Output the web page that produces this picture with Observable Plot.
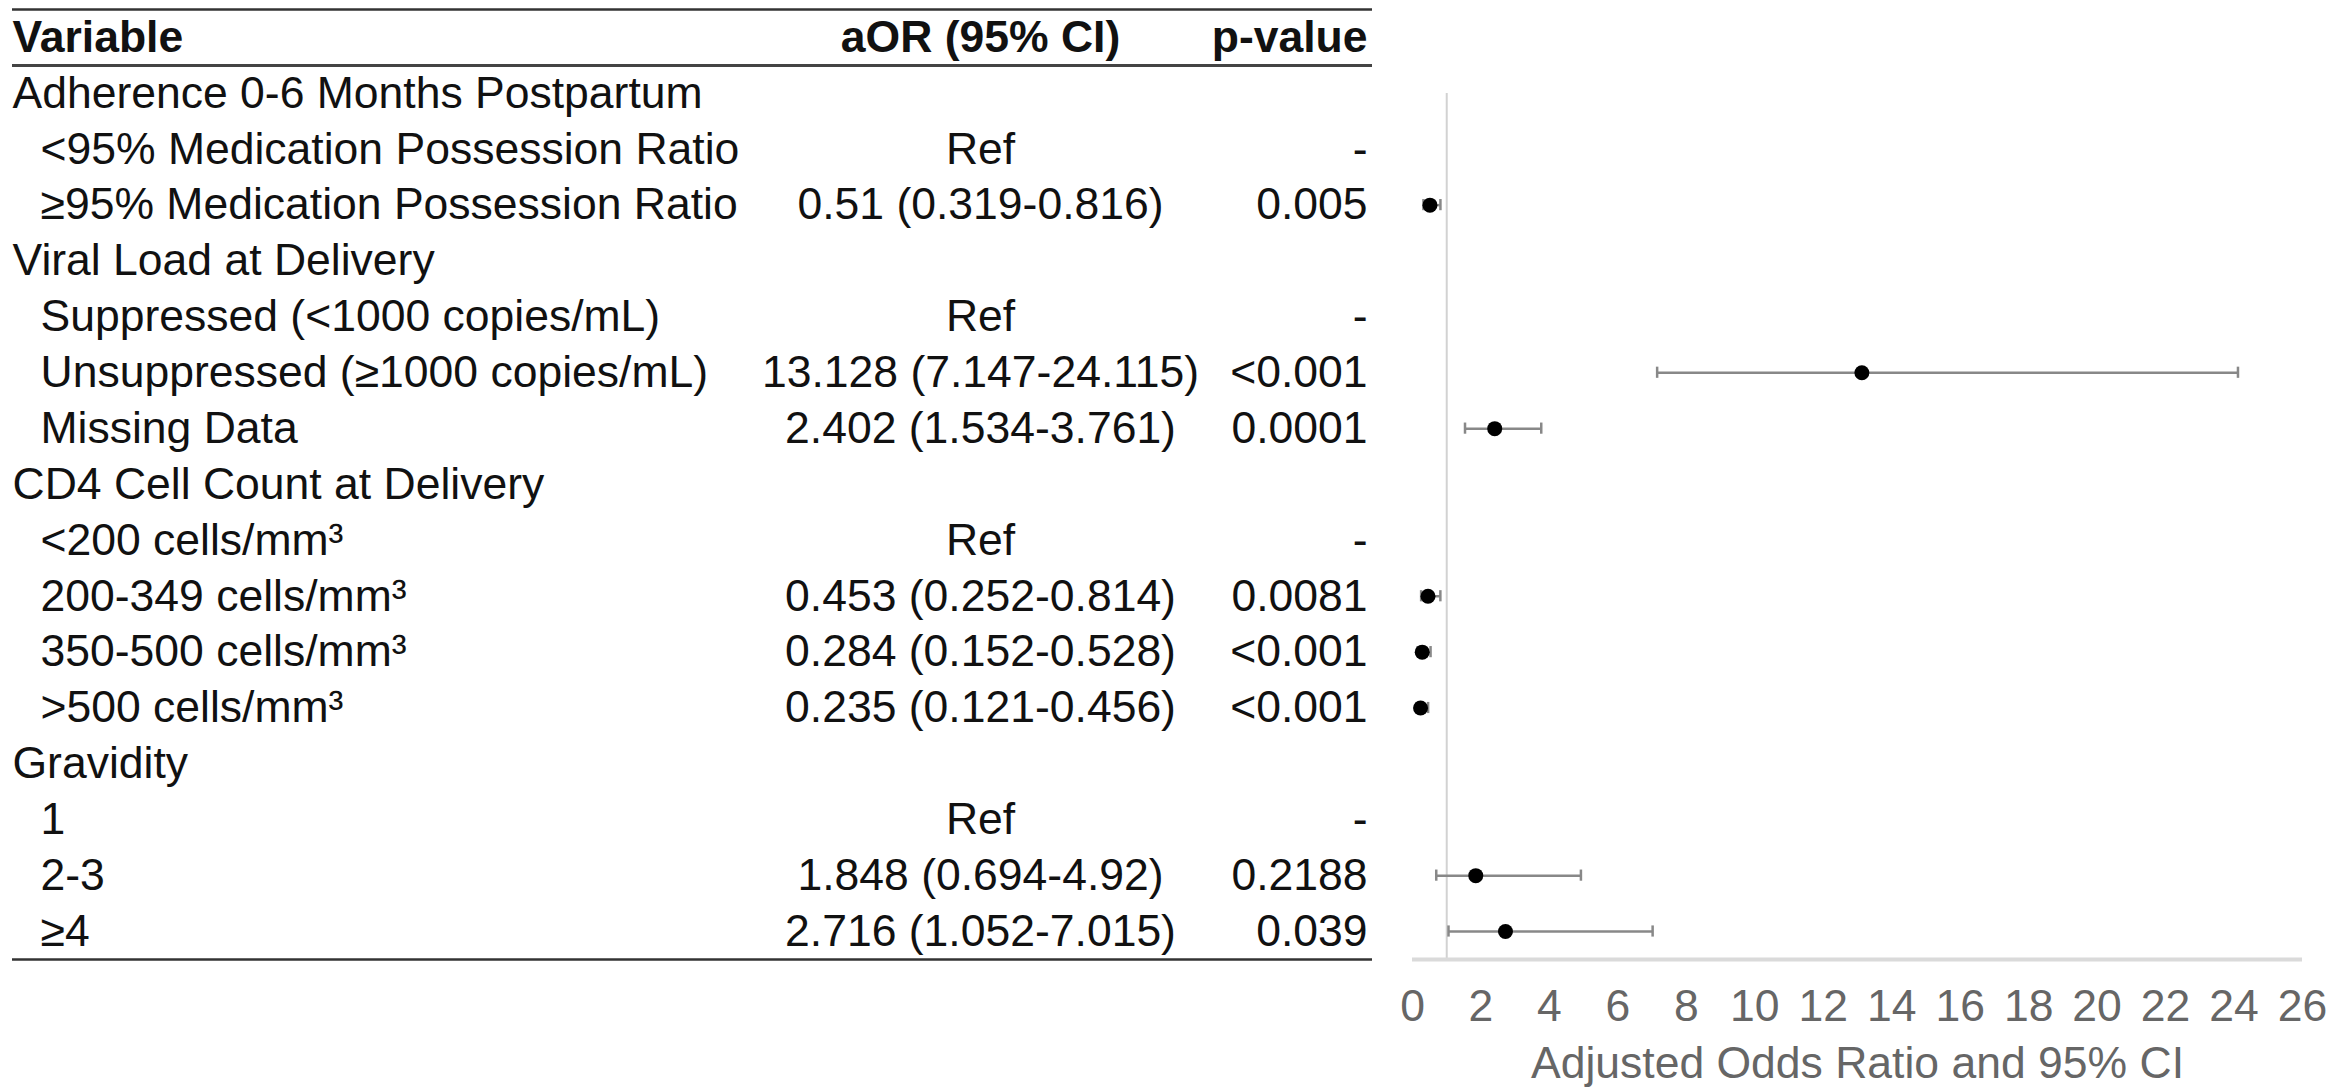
<!DOCTYPE html>
<html>
<head>
<meta charset="utf-8">
<script src="https://cdn.jsdelivr.net/npm/d3@7"></script>
<script src="https://cdn.jsdelivr.net/npm/@observablehq/plot@0.6"></script>
<style>
  html, body { margin: 0; padding: 0; background: #fff; }
  #chart svg { display: block; }
</style>
</head>
<body>
<div id="chart"></div>
<script>
// ---- data ----
const labels = [
  "Adherence 0-6 Months Postpartum",
  "<95% Medication Possession Ratio",
  "≥95% Medication Possession Ratio",
  "Viral Load at Delivery",
  "Suppressed (<1000 copies/mL)",
  "Unsuppressed (≥1000 copies/mL)",
  "Missing Data",
  "CD4 Cell Count at Delivery",
  "<200 cells/mm³",
  "200-349 cells/mm³",
  "350-500 cells/mm³",
  ">500 cells/mm³",
  "Gravidity",
  "1",
  "2-3",
  "≥4"
];
const isGroup = [true, false, false, true, false, false, false, true, false, false, false, false, true, false, false, false];
const aorText = ["", "Ref", "0.51 (0.319-0.816)", "", "Ref", "13.128 (7.147-24.115)", "2.402 (1.534-3.761)", "", "Ref", "0.453 (0.252-0.814)", "0.284 (0.152-0.528)", "0.235 (0.121-0.456)", "", "Ref", "1.848 (0.694-4.92)", "2.716 (1.052-7.015)"];
const pText = ["", "-", "0.005", "", "-", "<0.001", "0.0001", "", "-", "0.0081", "<0.001", "<0.001", "", "-", "0.2188", "0.039"];
const aor   = [null, null, 0.51,  null, null, 13.128, 2.402, null, null, 0.453, 0.284, 0.235, null, null, 1.848, 2.716];
const lower = [null, null, 0.319, null, null, 7.147,  1.534, null, null, 0.252, 0.152, 0.121, null, null, 0.694, 1.052];
const upper = [null, null, 0.816, null, null, 24.115, 3.761, null, null, 0.814, 0.528, 0.456, null, null, 4.92,  7.015];
const headers = ["Variable", "aOR (95% CI)", "p-value"];
const xTicks = [0, 2, 4, 6, 8, 10, 12, 14, 16, 18, 20, 22, 24, 26];
const xTitle = "Adjusted Odds Ratio and 95% CI";
const refValue = 1;

// ---- layout (pixels) ----
const W = 2340, H = 1089;
const mLeft = 1412, mRight = 38, mBottom = 132;
const colVar = 12, colSub = 40, colAor = 980, colP = 1367, tableRight = 1372;
const FONT = "'Liberation Sans', Arial, Helvetica, sans-serif";
const FS = 44.5;

const rows = labels.map((label, i) => ({
  i, label, group: isGroup[i], aorText: aorText[i], p: pText[i],
  est: aor[i], lo: lower[i], hi: upper[i]
}));
const est = rows.filter(d => d.est != null);

const xDomain = [d3.min(xTicks), d3.max(xTicks)];
const px2x = d3.scaleLinear([mLeft, W - mRight], xDomain);
const lastEdge = rows.length - 0.5;

const chart = Plot.plot({
  width: W,
  height: H,
  marginLeft: mLeft,
  marginRight: mRight,
  marginTop: 0,
  marginBottom: mBottom,
  style: { fontFamily: FONT, background: "#fff" },
  x: { domain: xDomain },
  y: { domain: [-1, rows.length - 1], range: [37, 931], axis: null },
  marks: [
    // table rules
    Plot.ruleY([-1.5, lastEdge], { x1: px2x(colVar), x2: px2x(tableRight), stroke: "#333", strokeWidth: 2.5 }),
    Plot.ruleY([-0.5], { x1: px2x(colVar), x2: px2x(tableRight), stroke: "#444", strokeWidth: 3 }),
    // headers
    Plot.text([headers[0]], { y: () => -1, frameAnchor: "left", dx: colVar - mLeft, textAnchor: "start", fontSize: FS, fontWeight: "bold", fill: "#111" }),
    Plot.text([headers[1]], { y: () => -1, frameAnchor: "left", dx: colAor - mLeft, textAnchor: "middle", fontSize: FS, fontWeight: "bold", fill: "#111" }),
    Plot.text([headers[2]], { y: () => -1, frameAnchor: "left", dx: colP - mLeft, textAnchor: "end", fontSize: FS, fontWeight: "bold", fill: "#111" }),
    // row labels
    Plot.text(rows.filter(d => d.group), { y: "i", text: "label", frameAnchor: "left", dx: colVar - mLeft, textAnchor: "start", fontSize: FS, fill: "#111" }),
    Plot.text(rows.filter(d => !d.group), { y: "i", text: "label", frameAnchor: "left", dx: colSub - mLeft, textAnchor: "start", fontSize: FS, fill: "#111" }),
    Plot.text(rows, { y: "i", text: "aorText", frameAnchor: "left", dx: colAor - mLeft, textAnchor: "middle", fontSize: FS, fill: "#111" }),
    Plot.text(rows, { y: "i", text: "p", frameAnchor: "left", dx: colP - mLeft, textAnchor: "end", fontSize: FS, fill: "#111" }),
    // forest plot
    Plot.ruleX([refValue], { y1: 0, y2: lastEdge, stroke: "#d2d2d2", strokeWidth: 2 }),
    Plot.ruleY([lastEdge], { x1: xDomain[0], x2: xDomain[1], stroke: "#dadada", strokeWidth: 4 }),
    Plot.ruleY(est, { y: "i", x1: "lo", x2: "hi", stroke: "#888", strokeWidth: 2.5 }),
    Plot.ruleX(est, { x: "lo", y1: d => d.i - 0.1, y2: d => d.i + 0.1, stroke: "#888", strokeWidth: 2.5 }),
    Plot.ruleX(est, { x: "hi", y1: d => d.i - 0.1, y2: d => d.i + 0.1, stroke: "#888", strokeWidth: 2.5 }),
    Plot.dot(est, { x: "est", y: "i", r: 7.5, fill: "#000", stroke: "none" }),
    // x axis
    Plot.axisX(xTicks, { tickSize: 0, tickPadding: 32, fontSize: FS, color: "#666", label: null }),
    Plot.text([xTitle], { frameAnchor: "bottom", dy: 106, lineAnchor: "middle", fontSize: FS, fill: "#666" })
  ]
});
document.getElementById("chart").appendChild(chart);
</script>
</body>
</html>
